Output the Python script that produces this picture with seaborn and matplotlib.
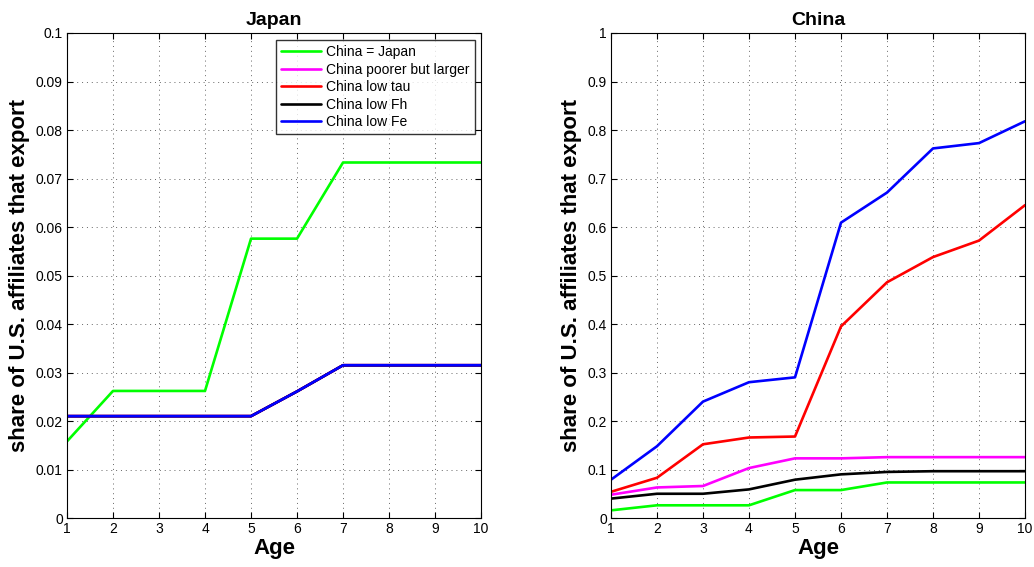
import pandas as pd
import numpy as np
import matplotlib
matplotlib.use("Agg")
import matplotlib.pyplot as plt
import seaborn as sns

# --- data ---
age = [1, 2, 3, 4, 5, 6, 7, 8, 9, 10]
series_names = ['China = Japan', 'China poorer but larger', 'China low tau',
                'China low Fh', 'China low Fe']
series_colors = ['#00ff00', '#ff00ff', '#ff0000', '#000000', '#0000ff']

# Japan panel: all counterfactuals coincide
japan_base = [0.0158, 0.0262, 0.0262, 0.0262, 0.0576, 0.0576, 0.0733, 0.0733, 0.0733, 0.0733]
japan_other = [0.0210, 0.0210, 0.0210, 0.0210, 0.0210, 0.0261, 0.0315, 0.0315, 0.0315, 0.0315]

# China panel
china_base = [0.0158, 0.0262, 0.0262, 0.0262, 0.0576, 0.0576, 0.0733, 0.0733, 0.0733, 0.0733]
china_poorer = [0.048, 0.063, 0.066, 0.103, 0.123, 0.123, 0.1255, 0.1255, 0.1255, 0.1255]
china_low_tau = [0.054, 0.083, 0.152, 0.166, 0.168, 0.395, 0.486, 0.538, 0.572, 0.645]
china_low_fh = [0.040, 0.050, 0.050, 0.059, 0.079, 0.090, 0.095, 0.0965, 0.0965, 0.0965]
china_low_fe = [0.079, 0.148, 0.240, 0.280, 0.290, 0.609, 0.671, 0.762, 0.773, 0.818]


def long_frame(values_by_series):
    rows = []
    for name, vals in zip(series_names, values_by_series):
        for a, v in zip(age, vals):
            rows.append({'Age': a, 'share': v, 'scenario': name})
    return pd.DataFrame(rows)


df_japan = long_frame([japan_base, japan_other, japan_other, japan_other, japan_other])
df_china = long_frame([china_base, china_poorer, china_low_tau, china_low_fh, china_low_fe])

sns.set_style('white')
plt.rcParams['font.family'] = ['Liberation Sans', 'DejaVu Sans']
plt.rcParams['text.color'] = 'black'
plt.rcParams['axes.labelcolor'] = 'black'

fig = plt.figure(figsize=(10.34, 5.67), dpi=100)
ax1 = fig.add_axes([0.0648, 0.0864, 0.4004, 0.8554])
ax2 = fig.add_axes([0.5909, 0.0864, 0.4004, 0.8554])

palette = dict(zip(series_names, series_colors))

for ax, df, title, ymax, step in [(ax1, df_japan, 'Japan', 0.1, 0.01),
                                  (ax2, df_china, 'China', 1.0, 0.1)]:
    sns.lineplot(data=df, x='Age', y='share', hue='scenario', hue_order=series_names,
                 palette=palette, linewidth=1.9, ax=ax, legend=(ax is ax1))
    ax.set_xlim(1, 10)
    ax.set_ylim(0, ymax)
    ax.set_xticks(age)
    yt = np.round(np.arange(0, ymax + step / 2, step), 3)
    ax.set_yticks(yt)
    ax.set_yticklabels([('%g' % t) for t in yt])
    ax.grid(True, linestyle=(0, (1, 4)), color='#666666', linewidth=0.7)
    ax.tick_params(direction='in', length=4, labelsize=10, colors='black',
                   top=True, right=True, bottom=True, left=True, pad=3)
    for sp in ax.spines.values():
        sp.set_color('black')
        sp.set_linewidth(0.8)
    ax.set_title(title, fontsize=14, fontweight='bold', pad=6, color='black')
    ax.set_xlabel('Age', fontsize=16, fontweight='bold', labelpad=1)
    ax.set_ylabel('share of U.S. affiliates that export', fontsize=16, fontweight='bold',
                  labelpad=4)

leg = ax1.legend(loc='upper right', fontsize=10, frameon=True, fancybox=False,
                 edgecolor='black', handlelength=2.9, borderpad=0.35, labelspacing=0.25,
                 handletextpad=0.4, bbox_to_anchor=(0.985, 0.985), borderaxespad=0)
leg.get_frame().set_linewidth(1.0)
for line in leg.get_lines():
    line.set_linewidth(1.9)

plt.savefig('out.png', dpi=100)
